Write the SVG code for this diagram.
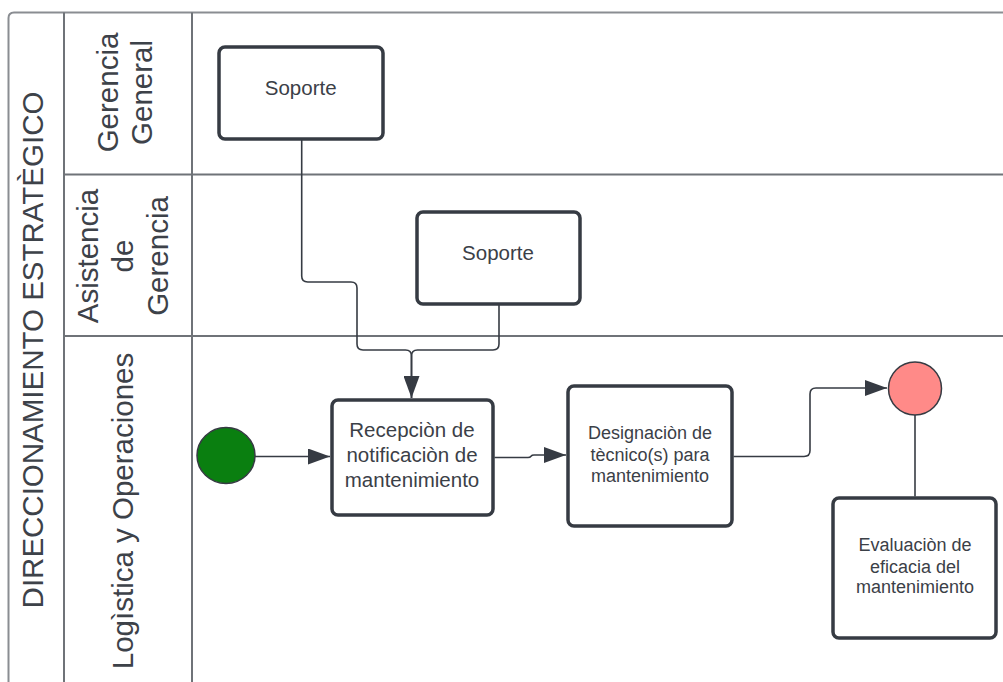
<svg xmlns="http://www.w3.org/2000/svg" width="1003" height="682" viewBox="0 0 1003 682">
  <defs>
    <marker id="arrow" viewBox="0 0 22 16" refX="22" refY="8" markerWidth="22" markerHeight="16" markerUnits="userSpaceOnUse" orient="auto">
      <path d="M0,0 L22,8 L0,16 z" fill="#363b43"/>
    </marker>
    <style>
      .lane { fill: none; stroke: #6f7378; stroke-width: 2; }
      .lane-top { fill: none; stroke: #8a8d92; stroke-width: 2; }
      .hdr { font-family: "Liberation Sans", Arial, sans-serif; font-size: 29.5px; fill: #3d4249; text-anchor: middle; }
      .box { fill: #ffffff; stroke: #363b43; stroke-width: 3.5; }
      .lbl { font-family: "Liberation Sans", Arial, sans-serif; fill: #3b4047; text-anchor: middle; }
      .l20 { font-size: 20.5px; }
      .l18 { font-size: 18px; }
      .conn { fill: none; stroke: #363b43; stroke-width: 1.6; }
    </style>
  </defs>

  <rect width="1003" height="682" fill="#ffffff"/>

  <!-- pool and lanes -->
  <g id="pool">
    <path class="lane-top" d="M8.5,682 V18 Q8.5,12.5 14,12.5 H1003"/>
    <path class="lane" d="M64,12.5 V682"/>
    <path class="lane" d="M192,12.5 V682"/>
    <path class="lane" d="M64,174.5 H1003"/>
    <path class="lane" d="M64,336 H1003"/>
    <text class="hdr" transform="translate(43,350) rotate(-90)">DIRECCIONAMIENTO ESTRATÈGICO</text>
  </g>

  <g id="lane-gerencia-general">
    <text class="hdr" transform="translate(118,92.5) rotate(-90)">Gerencia</text>
    <text class="hdr" transform="translate(152,92.5) rotate(-90)">General</text>
  </g>

  <g id="lane-asistencia">
    <text class="hdr" transform="translate(98,256) rotate(-90)">Asistencia</text>
    <text class="hdr" transform="translate(133,256) rotate(-90)">de</text>
    <text class="hdr" transform="translate(168,256) rotate(-90)">Gerencia</text>
  </g>

  <g id="lane-logistica">
    <text class="hdr" transform="translate(133,511) rotate(-90)">Logìstica y Operaciones</text>
  </g>

  <!-- connectors -->
  <g id="connectors">
    <path class="conn" d="M301.7,139 V276 Q301.7,282 307.7,282 H351 Q357,282 357,288 V344 Q357,350 363,350 H405.5 Q411.5,350 411.5,356 V398" marker-end="url(#arrow)"/>
    <path class="conn" d="M499,304 V344 Q499,350 493,350 H417.5 Q411.5,350 411.5,356 V398"/>
    <path class="conn" d="M255,456.5 H330" marker-end="url(#arrow)"/>
    <path class="conn" d="M494.5,457.5 H528 Q530,457.5 531,456.2 Q532,455 534,455 H566" marker-end="url(#arrow)"/>
    <path class="conn" d="M733.5,456.5 H804 Q810,456.5 810,450.5 V394 Q810,388 816,388 H887" marker-end="url(#arrow)"/>
    <path class="conn" d="M915,415 V496.5"/>
  </g>

  <!-- nodes -->
  <g id="soporte-gerencia">
    <rect class="box" x="219" y="47" width="164" height="92" rx="6"/>
    <text class="lbl l20" x="300.7" y="95.3">Soporte</text>
  </g>

  <g id="soporte-asistencia">
    <rect class="box" x="417" y="212" width="163" height="92" rx="6"/>
    <text class="lbl l20" x="498" y="260">Soporte</text>
  </g>

  <g id="inicio">
    <ellipse cx="226" cy="455.5" rx="29" ry="28" fill="#0a7f10" stroke="#363b43" stroke-width="1.5"/>
  </g>

  <g id="recepcion">
    <rect class="box" x="332" y="400" width="161" height="115" rx="6"/>
    <text class="lbl l20" x="412" y="437">Recepciòn de</text>
    <text class="lbl l20" x="412" y="461.7">notificaciòn de</text>
    <text class="lbl l20" x="412" y="486.7">mantenimiento</text>
  </g>

  <g id="designacion">
    <rect class="box" x="568" y="386" width="164" height="140" rx="6"/>
    <text class="lbl l18" x="650" y="439">Designaciòn de</text>
    <text class="lbl l18" x="650" y="460.7">tècnico(s) para</text>
    <text class="lbl l18" x="650" y="481.7">mantenimiento</text>
  </g>

  <g id="fin">
    <circle cx="915" cy="388.5" r="26.5" fill="#ff8a88" stroke="#363b43" stroke-width="1.5"/>
  </g>

  <g id="evaluacion">
    <rect class="box" x="833" y="498" width="163" height="140" rx="6"/>
    <text class="lbl l18" x="915" y="551">Evaluaciòn de</text>
    <text class="lbl l18" x="915" y="572.7">eficacia del</text>
    <text class="lbl l18" x="915" y="593">mantenimiento</text>
  </g>
</svg>
